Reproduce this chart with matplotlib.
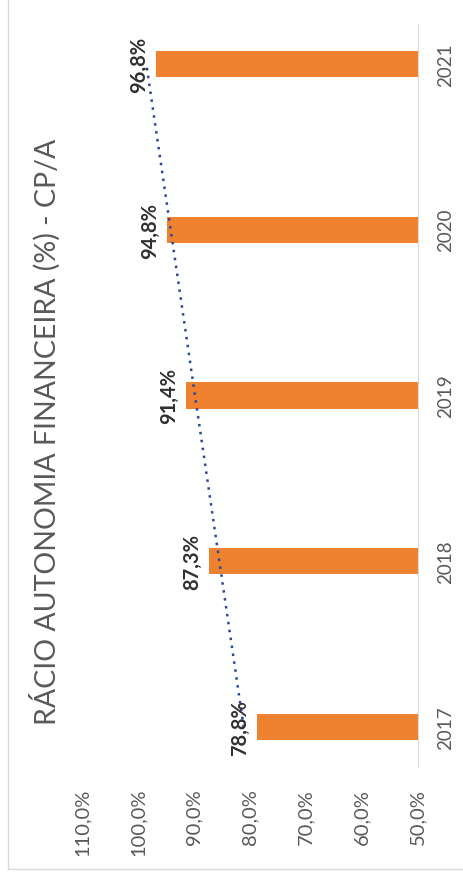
import numpy as np
import matplotlib.pyplot as plt
from matplotlib.patches import Rectangle
from matplotlib.ticker import FuncFormatter

plt.rcParams['font.family'] = ['Lato', 'DejaVu Sans']

# dados do rácio
anos = ['2017', '2018', '2019', '2020', '2021']
racio = [78.8, 87.3, 91.4, 94.8, 96.8]
titulo = 'RÁCIO AUTONOMIA FINANCEIRA (%) - CP/A'

cinza = '#595959'
laranja = '#EE8230'

fig = plt.figure(figsize=(4.64, 8.79), dpi=100)

# moldura do gráfico
fig.patches.append(Rectangle((8 / 464, 9 / 879), 1.0, 1.0, transform=fig.transFigure,
                             fill=False, edgecolor='#d9d9d9', linewidth=1.0))

# gráfico de colunas rodado 90 graus: valores crescem para a esquerda
ax = fig.add_axes([82 / 464, 111 / 879, 336 / 464, 743 / 879])
pos = np.arange(len(anos))
ax.barh(pos, racio, height=0.157, color=laranja, zorder=2)

# linha de tendência linear
a, b = np.polyfit(pos, racio, 1)
ax.plot(a * pos + b, pos, color='#2B45A0', linestyle=(0, (1, 2.2)), linewidth=1.8, zorder=3)

for p, v in zip(pos, racio):
    ax.annotate(('%.1f%%' % v).replace('.', ','), xy=(v, p), xytext=(-5, 0),
                textcoords='offset points', rotation=90, ha='right', va='center',
                fontsize=14.5, fontweight='bold', color='#303030', zorder=4)

ax.set_xlim(110, 50)
ax.set_ylim(-0.24, 4.24)
ax.set_xticks(np.arange(50, 111, 10))
ax.xaxis.set_major_formatter(FuncFormatter(lambda x, _: ('%.1f%%' % x).replace('.', ',')))
ax.yaxis.tick_right()
ax.set_yticks(pos, anos)
ax.tick_params(axis='x', length=0, pad=15, labelsize=14.5, labelcolor=cinza, labelrotation=90)
ax.tick_params(axis='y', length=0, pad=14, labelsize=13.5, labelcolor=cinza, labelrotation=90)
for lbl in ax.get_yticklabels():
    lbl.set_va('center')

for s in ['top', 'bottom', 'left']:
    ax.spines[s].set_visible(False)
ax.spines['right'].set_color('#d9d9d9')

fig.text(45 / 464, 1 - 432 / 879, titulo, rotation=90, ha='center', va='center',
         fontsize=20.5, color=cinza)

fig.savefig('out.png', dpi=100)
